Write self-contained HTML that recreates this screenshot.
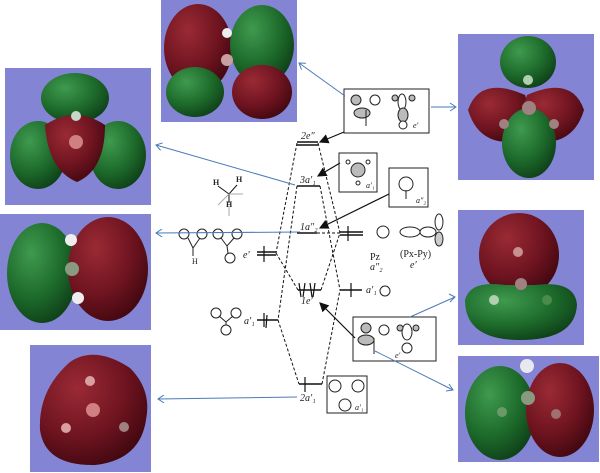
<!DOCTYPE html>
<html><head><meta charset="utf-8"><style>
html,body{margin:0;padding:0;background:#fff;width:600px;height:473px;overflow:hidden}
svg{display:block}
text{font-family:"Liberation Serif",serif;fill:#222}
</style></head><body>
<svg width="600" height="473" viewBox="0 0 600 473" xmlns="http://www.w3.org/2000/svg">
<defs>
<radialGradient id="g" cx="35%" cy="30%" r="75%"><stop offset="0" stop-color="#3f9a4e"/><stop offset="0.6" stop-color="#1d6a2b"/><stop offset="1" stop-color="#0f4018"/></radialGradient>
<radialGradient id="r" cx="35%" cy="30%" r="75%"><stop offset="0" stop-color="#9a2a34"/><stop offset="0.6" stop-color="#6e1420"/><stop offset="1" stop-color="#420810"/></radialGradient>
<marker id="ab" markerWidth="8" markerHeight="8" refX="1" refY="4" orient="auto"><path d="M7,0 L1,4 L7,8" fill="none" stroke="#4a7ab8" stroke-width="1"/></marker>
<marker id="ak" markerWidth="8" markerHeight="8" refX="7" refY="4" orient="auto"><path d="M0,0 L8,4 L0,8 z" fill="#111"/></marker>
</defs>
<rect x="161" y="0" width="136" height="122" fill="#8484d4"/>
<ellipse cx="198" cy="48" rx="34" ry="44" fill="url(#r)"/>
<ellipse cx="262" cy="45" rx="32" ry="40" fill="url(#g)"/>
<ellipse cx="195" cy="92" rx="29" ry="25" fill="url(#g)"/>
<ellipse cx="262" cy="92" rx="30" ry="27" fill="url(#r)"/>
<circle cx="227" cy="33" r="5" fill="#eee"/><circle cx="227" cy="60" r="6" fill="#c8a0a0"/>

<rect x="5" y="68" width="146" height="137" fill="#8484d4"/>
<ellipse cx="75" cy="98" rx="34" ry="25" fill="url(#g)"/>
<ellipse cx="38" cy="155" rx="28" ry="34" fill="url(#g)"/>
<ellipse cx="118" cy="155" rx="28" ry="34" fill="url(#g)"/>
<path d="M45,125 Q75,105 105,125 Q105,170 77,182 Q48,170 45,125z" fill="url(#r)"/>
<circle cx="76" cy="142" r="7" fill="#d08080"/><circle cx="76" cy="116" r="5" fill="#c8d8c8"/>

<rect x="0" y="214" width="151" height="116" fill="#8484d4"/>
<ellipse cx="42" cy="273" rx="35" ry="50" fill="url(#g)"/>
<ellipse cx="108" cy="269" rx="40" ry="52" fill="url(#r)"/>
<circle cx="71" cy="240" r="6" fill="#eee"/><circle cx="72" cy="269" r="7" fill="#8a9a80"/><circle cx="78" cy="298" r="6" fill="#eee"/>

<rect x="30" y="345" width="121" height="127" fill="#8484d4"/>
<path d="M70,362 Q95,345 130,368 Q152,390 146,420 Q140,460 95,465 Q45,466 40,430 Q38,390 70,362z" fill="url(#r)"/>
<circle cx="90" cy="381" r="5" fill="#d8a0a0"/><circle cx="93" cy="410" r="7" fill="#d08080"/><circle cx="66" cy="428" r="5" fill="#d8a0a0"/><circle cx="124" cy="427" r="5" fill="#a08080"/>

<rect x="458" y="34" width="136" height="146" fill="#8484d4"/>
<path d="M468,110 Q480,75 525,95 L530,110 L525,140 Q480,150 468,110z" fill="url(#r)"/>
<path d="M584,110 Q572,75 527,95 L522,110 L527,140 Q572,150 584,110z" fill="url(#r)"/>
<ellipse cx="528" cy="62" rx="28" ry="26" fill="url(#g)"/>
<ellipse cx="529" cy="143" rx="27" ry="35" fill="url(#g)"/>
<circle cx="528" cy="80" r="5" fill="#b0d0b0"/><circle cx="529" cy="108" r="7" fill="#a08080"/><circle cx="504" cy="124" r="5" fill="#a08080"/><circle cx="554" cy="124" r="5" fill="#a08080"/>

<rect x="458" y="210" width="126" height="135" fill="#8484d4"/>
<ellipse cx="519" cy="255" rx="40" ry="42" fill="url(#r)"/>
<path d="M465,300 Q470,280 505,285 L535,285 Q575,280 577,305 Q575,340 520,340 Q465,340 465,300z" fill="url(#g)"/>
<circle cx="518" cy="252" r="5" fill="#c89090"/><circle cx="521" cy="284" r="6" fill="#a08080"/><circle cx="494" cy="300" r="5" fill="#b0d0b0"/><circle cx="547" cy="300" r="5" fill="#4a8a4a"/>

<rect x="458" y="356" width="141" height="106" fill="#8484d4"/>
<ellipse cx="500" cy="413" rx="35" ry="47" fill="url(#g)"/>
<ellipse cx="560" cy="410" rx="34" ry="47" fill="url(#r)"/>
<circle cx="527" cy="366" r="7" fill="#e8e8f0"/><circle cx="528" cy="398" r="7" fill="#8a9a80"/><circle cx="502" cy="412" r="5" fill="#6a9a6a"/><circle cx="556" cy="414" r="5" fill="#a07070"/>

<g stroke="#111" stroke-width="1.6" fill="none">
<line x1="297" y1="142" x2="318" y2="142"/><line x1="297" y1="145" x2="318" y2="145"/>
<line x1="297" y1="186" x2="320" y2="186"/>
<line x1="297" y1="233" x2="317" y2="233"/>
<line x1="298" y1="290" x2="321" y2="290"/>
<line x1="299" y1="384" x2="322" y2="384"/>
<line x1="257" y1="252" x2="276" y2="252"/><line x1="257" y1="255" x2="276" y2="255"/>
<line x1="257" y1="320" x2="278" y2="320"/>
<line x1="340" y1="232" x2="363" y2="232"/><line x1="340" y1="235" x2="363" y2="235"/>
<line x1="340" y1="290" x2="362" y2="290"/>
</g>
<g stroke="#111" stroke-width="1" stroke-dasharray="3,2" fill="none">
<line x1="297" y1="143" x2="276" y2="253"/><line x1="318" y1="143" x2="340" y2="233"/>
<line x1="297" y1="186" x2="278" y2="320"/><line x1="320" y1="186" x2="340" y2="290"/>
<line x1="317" y1="233" x2="340" y2="233"/>
<line x1="276" y1="253" x2="298" y2="290"/><line x1="321" y1="290" x2="340" y2="233"/>
<line x1="278" y1="320" x2="299" y2="384"/><line x1="322" y1="384" x2="340" y2="290"/>
</g>
<g stroke="#111" stroke-width="1.2">
<line x1="264" y1="246" x2="264" y2="262"/><line x1="299" y1="283" x2="301" y2="297"/><line x1="305" y1="283" x2="303" y2="297"/><line x1="310" y1="283" x2="312" y2="297"/><line x1="315" y1="283" x2="313" y2="297"/>
<line x1="264" y1="313" x2="264" y2="327"/><line x1="267" y1="315" x2="266" y2="328"/>
<line x1="351" y1="283" x2="351" y2="297"/><line x1="348" y1="226" x2="348" y2="241"/>
<line x1="305" y1="377" x2="305" y2="392"/>
</g>
<g font-size="10" font-style="italic">
<text x="301" y="139">2e″</text><text x="300" y="183">3a′₁</text><text x="300" y="230">1a″₂</text>
<text x="301" y="304">1e′</text><text x="300" y="401">2a′₁</text>
<text x="243" y="258">e′</text><text x="244" y="324">a′₁</text><text x="366" y="293">a′₁</text>
<text x="370" y="260" font-style="normal">Pz</text><text x="370" y="270">a″₂</text>
<text x="400" y="257" font-style="normal">(Px-Py)</text><text x="410" y="268">e′</text>
</g>
<circle cx="383" cy="232" r="6" fill="none" stroke="#222"/>
<circle cx="385" cy="291" r="5" fill="none" stroke="#222"/>
<ellipse cx="410" cy="232" rx="10" ry="5" fill="none" stroke="#222"/><ellipse cx="428" cy="232" rx="8" ry="5" fill="none" stroke="#222"/>
<ellipse cx="439" cy="222" rx="4" ry="8" fill="none" stroke="#222"/><ellipse cx="439" cy="239" rx="4" ry="7" fill="#ccc" stroke="#222"/>
<g font-size="8" font-family="Liberation Sans" fill="none" stroke="#222">
<circle cx="184" cy="234" r="5"/><circle cx="202" cy="234" r="5"/><circle cx="218" cy="234" r="5"/><circle cx="237" cy="234" r="5"/><circle cx="230" cy="258" r="5"/>
<circle cx="216" cy="313" r="5"/><circle cx="236" cy="313" r="5"/><circle cx="226" cy="330" r="5"/>
<path d="M188,238 L193,248 L200,238 M193,248 L193,256 M221,238 L227,246 L234,238 M227,246 L228,253 M219,316 L226,322 L233,316 M226,322 L226,325"/>
</g>
<text x="192" y="264" font-size="8" font-family="Liberation Sans">H</text>
<g font-size="8" font-family="Liberation Sans" font-weight="bold"><text x="213" y="185">H</text><text x="236" y="182">H</text><text x="226" y="207">H</text></g>
<path d="M218,186 L229,194 L237,185 M229,194 L229,203" stroke="#111" fill="none"/>
<path d="M229,194 L243,194 M229,194 L218,205 M229,206 L229,216" stroke="#aaa" fill="none"/>
<g fill="#fff" stroke="#222" stroke-width="1">
<rect x="344" y="89" width="85" height="44"/><rect x="339" y="153" width="38" height="39"/><rect x="389" y="168" width="39" height="39"/>
<rect x="353" y="317" width="83" height="44"/><rect x="327" y="376" width="40" height="37"/>
</g>
<g fill="#bbb" stroke="#222">
<circle cx="356" cy="100" r="5"/><ellipse cx="362" cy="113" rx="8" ry="5"/><circle cx="375" cy="100" r="5" fill="#fff"/><line x1="366" y1="110" x2="366" y2="126"/>
<ellipse cx="402" cy="102" rx="4" ry="8" fill="#fff"/><circle cx="395" cy="98" r="3"/><circle cx="412" cy="98" r="3"/><ellipse cx="403" cy="115" rx="5" ry="7"/><circle cx="403" cy="125" r="4" fill="#fff"/>
<circle cx="358" cy="170" r="7"/><circle cx="348" cy="162" r="2" fill="#fff"/><circle cx="368" cy="162" r="2" fill="#fff"/><circle cx="358" cy="183" r="2" fill="#fff"/>
<circle cx="406" cy="184" r="7" fill="#fff"/><line x1="406" y1="190" x2="406" y2="199"/>
<circle cx="366" cy="328" r="5"/><ellipse cx="366" cy="340" rx="8" ry="5"/><circle cx="384" cy="330" r="5" fill="#fff"/><line x1="374" y1="338" x2="374" y2="354"/>
<ellipse cx="407" cy="332" rx="5" ry="8" fill="#fff"/><circle cx="400" cy="328" r="3"/><circle cx="416" cy="328" r="3"/><circle cx="407" cy="348" r="5" fill="#fff"/>
<circle cx="335" cy="386" r="6" fill="#fff"/><circle cx="358" cy="386" r="6" fill="#fff"/><circle cx="345" cy="405" r="6" fill="#fff"/>
</g>
<g font-size="8" font-style="italic"><text x="413" y="128">e′</text><text x="366" y="188">a′₁</text><text x="416" y="203">a″₂</text><text x="395" y="358">e′</text><text x="355" y="410">a′₁</text></g>
<g stroke="#111" stroke-width="1.2" marker-end="url(#ak)">
<line x1="344" y1="132" x2="320" y2="142"/><line x1="340" y1="163" x2="318" y2="176"/>
<line x1="389" y1="194" x2="320" y2="228"/><line x1="355" y1="338" x2="320" y2="303"/>
</g>
<g stroke="#4a7ab8" stroke-width="1" fill="none" marker-start="url(#ab)">
<line x1="299" y1="63" x2="345" y2="96"/>
<line x1="156" y1="145" x2="295" y2="185"/><line x1="156" y1="233" x2="300" y2="232"/>
<line x1="158" y1="399" x2="297" y2="397"/>
</g>
<g stroke="#4a7ab8" stroke-width="1" fill="none">
<line x1="410" y1="317" x2="455" y2="297"/><path d="M449,294 L455,297 L450,302"/>
<line x1="375" y1="351" x2="453" y2="390"/><path d="M446,391 L453,390 L449,384"/>
<line x1="431" y1="107" x2="455" y2="107"/><path d="M450,103 L456,107 L450,111"/>
</g>
</svg>
</body></html>
